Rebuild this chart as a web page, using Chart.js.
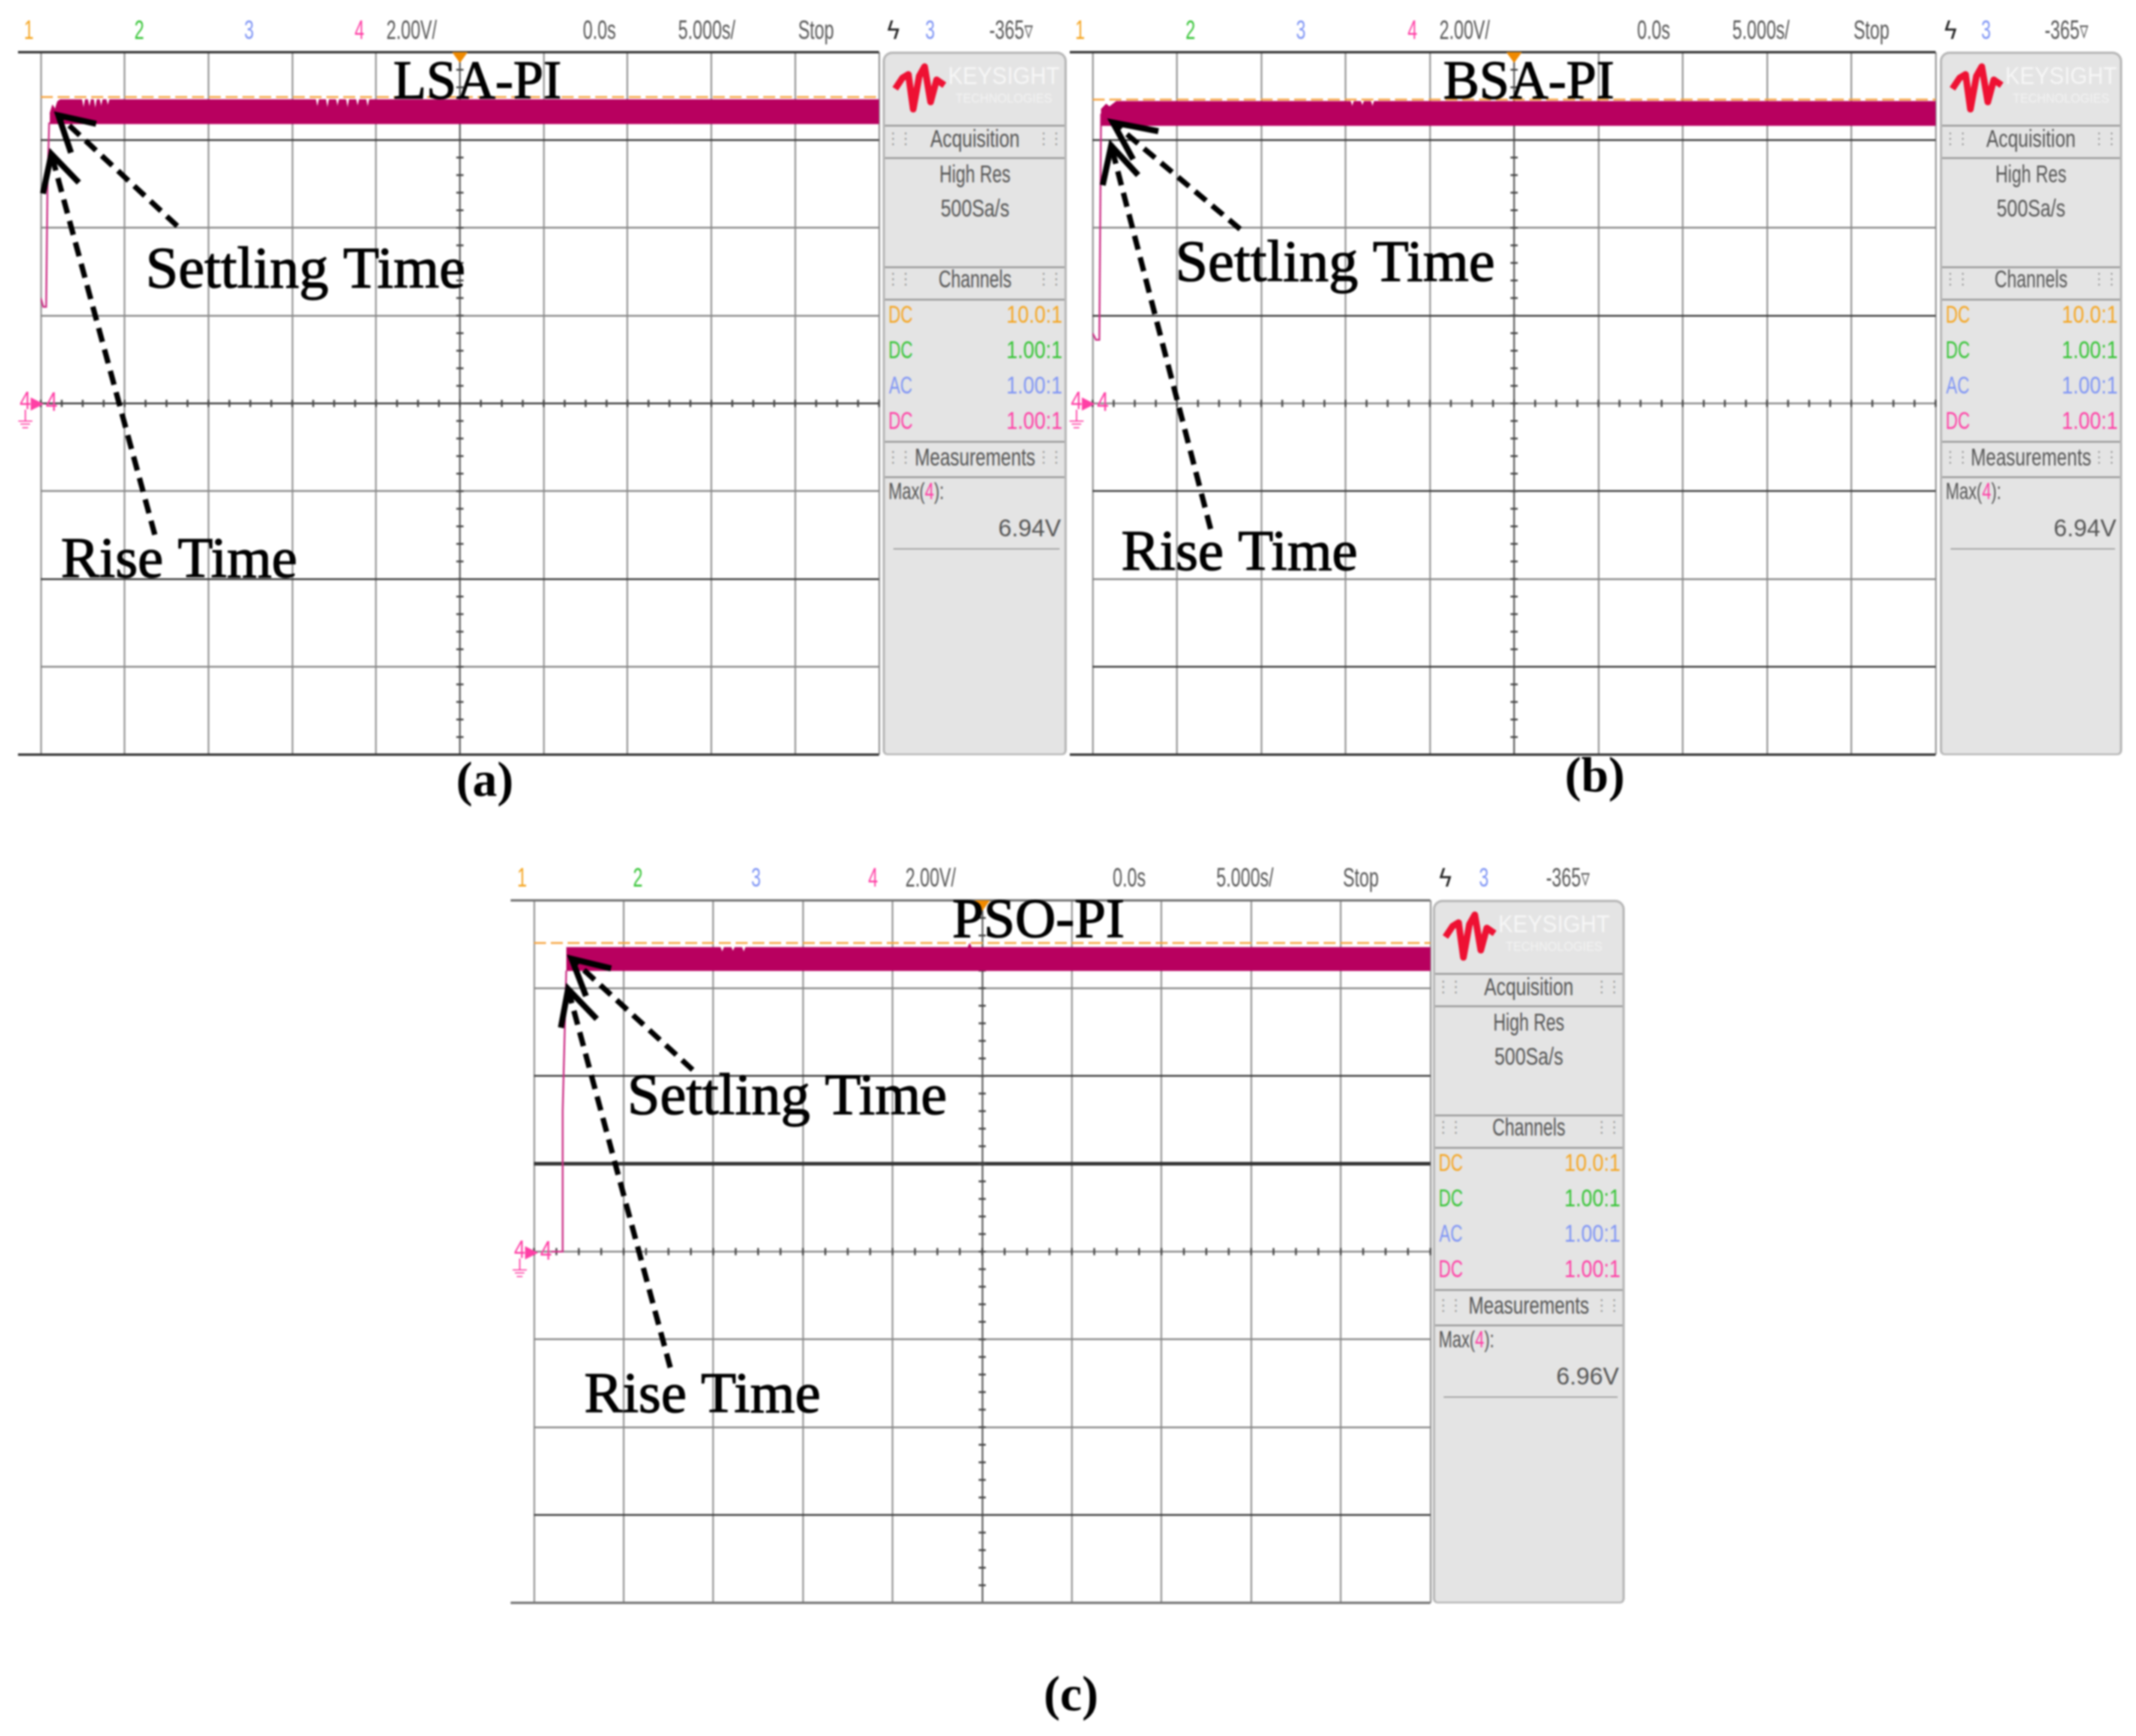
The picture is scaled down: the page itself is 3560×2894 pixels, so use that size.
<!DOCTYPE html>
<html>
<head>
<meta charset="utf-8">
<title>Scope captures</title>
<script src="https://cdn.jsdelivr.net/npm/chart.js@4"></script>
<style>
  html, body { margin: 0; background: #fff; }
  #page { position: relative; width: 3560px; height: 2894px; overflow: hidden; filter: blur(1.4px); }
  canvas { position: absolute; }
  .txt { position: absolute; white-space: nowrap; font-family: "Liberation Sans", sans-serif; line-height: 1; }
  .side { position: absolute; background: #e4e4e4; border: 4px solid #b8b8b8; border-bottom-width: 3px; border-radius: 16px 16px 8px 8px; box-sizing: border-box; }
  .rule { position: absolute; left: 0; right: 0; height: 3px; background: #9a9a9a; }
</style>
</head>
<body>
<div id="page"></div>
<script>
// === channel labels above each capture ===
const headerTexts = ['1', '2', '3', '4', '2.00V/', '0.0s', '5.000s/', 'Stop', '3', '-365▿'];
const headerColors = ['#f5a623', '#35c435', '#7f95f5', '#ff3fa5', '#555', '#555', '#555', '#555', '#7f95f5', '#555'];
const channelCoupling = ['DC', 'DC', 'AC', 'DC'];
const channelProbe = ['10.0:1', '1.00:1', '1.00:1', '1.00:1'];
const channelColors = ['#f5a623', '#35c435', '#7f95f5', '#ff3fa5'];

// === grid units: seconds and volts ===
const timeTicks = [-25, -20, -15, -10, -5, 0, 5, 10, 15, 20, 25];
const voltTicks = [-8, -6, -4, -2, 0, 2, 4, 6, 8];

// === panel a: LSA-PI ===
const aBandTime = [-24.46, -24.3, -24.15, -24.0, -23.85, -23.0, -22.55, -22.45, -22.35, -22.2, -22.1, -22.0, -21.85, -21.75, -21.65, -21.5, -21.4, -21.3, -21.1, -21, -20.9, -9, -8.6, -8.5, -8.4, -8.0, -7.9, -7.8, -7.4, -7.3, -7.2, -6.8, -6.7, -6.6, -6.2, -6.1, -6.0, -5.6, -5.5, -5.4, 25];
const aBandMax = [6.6, 6.8, 6.7, 6.88, 6.92, 6.92, 6.92, 6.72, 6.92, 6.92, 6.74, 6.92, 6.92, 6.7, 6.92, 6.92, 6.76, 6.92, 6.92, 6.78, 6.92, 6.92, 6.92, 6.74, 6.92, 6.92, 6.72, 6.92, 6.92, 6.76, 6.92, 6.92, 6.72, 6.92, 6.92, 6.76, 6.92, 6.92, 6.74, 6.92, 6.92];
const aBandMinTime = [-24.46, 25];
const aBandMin = [6.37, 6.37];
const aRiseTime = [-25, -24.85, -24.68, -24.6, -24.5];
const aRiseVolt = [2.4, 2.2, 2.2, 5, 6.4];
const aRefLevel = 6.98;
const aSettlingArrow = [[-16.86, 4.04], [-23.95, 6.56], [-21.7, 6.37], [-23.2, 5.71]];
const aRiseArrow = [[-18.2, -2.99], [-24.37, 5.68], [-24.87, 4.78], [-22.73, 5.03]];
const aDarkLines = [8, 6, 0, -4, -8];

// === panel b: BSA-PI ===
const bBandTime = [-24.5, -24.2, -24.0, -23.6, -10, -9.7, -9.6, -9.5, -9.1, -9, -8.9, -8.5, -8.4, -8.3, 25];
const bBandMax = [6.7, 6.82, 6.76, 6.88, 6.88, 6.88, 6.76, 6.88, 6.88, 6.78, 6.88, 6.88, 6.76, 6.88, 6.88];
const bBandMinTime = [-24.5, 25];
const bBandMin = [6.33, 6.33];
const bRiseTime = [-25, -24.8, -24.6, -24.5];
const bRiseVolt = [1.6, 1.45, 1.45, 6.6];
const bRefLevel = 6.92;
const bSettlingArrow = [[-16.25, 3.97], [-23.8, 6.4], [-21.1, 6.2], [-22.6, 5.56]];
const bRiseArrow = [[-18, -2.86], [-23.9, 5.87], [-24.4, 4.97], [-22.3, 5.2]];
const bDarkLines = [8, 6, 2, -2, -6, -8];

// === panel c: PSO-PI ===
const cBandTime = [-23.2, -15, -14.6, -14.5, -14.4, -14.0, -13.9, -13.8, -13.4, -13.3, -13.2, -0.8, -0.7, -0.6, 25];
const cBandMax = [6.93, 6.93, 6.93, 6.82, 6.93, 6.93, 6.84, 6.93, 6.93, 6.82, 6.93, 6.93, 7.02, 6.93, 6.93];
const cBandMinTime = [-23.2, 25];
const cBandMin = [6.4, 6.4];
const cRiseTime = [-24.05, -23.4, -23.4, -23.2];
const cRiseVolt = [0, 0, 3.2, 6.4];
const cRefLevel = 7.03;
const cSettlingArrow = [[-16.15, 4.14], [-22.9, 6.67], [-20.7, 6.45], [-22.1, 5.82]];
const cRiseArrow = [[-17.4, -2.64], [-23.1, 5.98], [-23.5, 5.1], [-21.5, 5.3]];
const cDarkLines = [4, -6, -8];
const cThickLines = [2];

const page = document.getElementById('page');

// === TEXT AND SIDE PANEL HELPERS ===
function addText(parent, text, x, y, size, color, squeeze) {
    const el = document.createElement('div');
    el.className = 'txt';
    el.textContent = text;
    el.style.left = x + 'px';
    el.style.top = y + 'px';
    el.style.fontSize = size + 'px';
    el.style.color = color;
    el.style.transform = `translate(-50%, -50%) scaleX(${squeeze || 0.72})`;
    parent.appendChild(el);
    return el;
}

function addSidePanel(left, top, width, height, maxText) {
    const side = document.createElement('div');
    side.className = 'side';
    side.style.cssText = `left:${left}px;top:${top}px;width:${width}px;height:${height}px`;
    page.appendChild(side);
    const mid = width / 2 - 4;

    [118, 172, 354, 408, 645, 704].forEach(y => {
        const rule = document.createElement('div');
        rule.className = 'rule';
        rule.style.top = y + 'px';
        side.appendChild(rule);
    });

    // logo
    side.insertAdjacentHTML('beforeend',
        '<svg style="position:absolute;left:0;top:0" width="120" height="110" viewBox="0 0 120 110">' +
        '<polyline points="17,58 29,40 39,34 47,92 57,37 66,21 76,80 86,43 99,52" fill="none" stroke="#ee1133" stroke-width="11" stroke-linejoin="round"/></svg>');
    addText(side, 'KEYSIGHT', 198, 36, 40, '#f6f6f6', 0.92);
    addText(side, 'TECHNOLOGIES', 198, 74, 22, '#f2f2f2', 0.92);

    addText(side, 'Acquisition', mid, 141, 40, '#555', 0.77);
    addText(side, 'High Res', mid, 200, 40, '#555', 0.72);
    addText(side, '500Sa/s', mid, 257, 40, '#555', 0.78);
    addText(side, 'Channels', mid, 375, 40, '#555', 0.72);
    addText(side, 'Measurements', mid, 672, 40, '#555', 0.76);
    [141, 375, 672].forEach(y => {
        addText(side, '⋮⋮', 24, y, 26, '#888', 0.8);
        addText(side, '⋮⋮', width - 32, y, 26, '#888', 0.8);
    });

    channelCoupling.forEach((c, i) => {
        const y = 434 + i * 59;
        addText(side, c, 26, y, 40, channelColors[i], 0.7);
        addText(side, channelProbe[i], width - 58, y, 40, channelColors[i], 0.84);
    });

    const maxLabel = addText(side, '', 52, 729, 38, '#555', 0.72);
    maxLabel.innerHTML = 'Max(<span style="color:#ff3fa5">4</span>):';
    addText(side, maxText, width - 66, 790, 40, '#555', 1.0);
    const under = document.createElement('div');
    under.className = 'rule';
    under.style.cssText = 'top:824px;left:14px;right:8px;height:2px';
    side.appendChild(under);
}

function addHeader(xs, y) {
    headerTexts.forEach((t, i) => {
        addText(page, t, xs[i], y, 44, headerColors[i], 0.66);
    });
    addText(page, 'ϟ', xs[10], y, 44, '#222', 0.9);
}

function addGroundMark(x, y) {
    addText(page, '4', x, y - 4, 42, '#ff3fa5', 0.8);
    addText(page, '▸', x + 20, y - 2, 44, '#ff3fa5', 1);
    addText(page, '4', x + 44, y - 2, 44, '#ff3fa5', 0.8);
    addText(page, '⏚', x, y + 28, 40, '#ff3fa5', 1);
}

// === PLUGIN FOR SCOPE DECORATIONS AND ARROWS ===
function pt(chart, p) {
    return [chart.scales.x.getPixelForValue(p[0]), chart.scales.y.getPixelForValue(p[1])];
}

const scopePlugin = {
    id: 'scope',
    beforeDatasetsDraw(chart) {
        const ctx = chart.ctx, a = chart.chartArea, o = chart.options.plugins.scope;
        const cx = chart.scales.x.getPixelForValue(0), cy = chart.scales.y.getPixelForValue(0);
        ctx.save();
        ctx.strokeStyle = '#444';
        ctx.lineWidth = 3;
        // minor ticks along the centre lines
        for (let t = -25; t <= 25; t += 1.25) {
            const x = chart.scales.x.getPixelForValue(t);
            ctx.beginPath(); ctx.moveTo(x, cy - 6); ctx.lineTo(x, cy + 6); ctx.stroke();
        }
        for (let v = -8; v <= 8; v += 0.4) {
            const y = chart.scales.y.getPixelForValue(v);
            ctx.beginPath(); ctx.moveTo(cx - 6, y); ctx.lineTo(cx + 6, y); ctx.stroke();
        }
        // top and bottom rules reach past the grid on the left
        ctx.strokeStyle = o.ruleColor;
        ctx.lineWidth = 4;
        ctx.beginPath();
        ctx.moveTo(o.ruleLeft, a.top); ctx.lineTo(a.right, a.top);
        ctx.moveTo(o.ruleLeft, a.bottom); ctx.lineTo(a.right, a.bottom);
        ctx.stroke();
        // trigger mark
        ctx.fillStyle = '#f08a00';
        ctx.beginPath();
        ctx.moveTo(cx - 13, a.top); ctx.lineTo(cx + 13, a.top); ctx.lineTo(cx, a.top + 18); ctx.closePath();
        ctx.fill();
        ctx.restore();
    },
    afterDatasetsDraw(chart) {
        const ctx = chart.ctx, o = chart.options.plugins.scope;
        ctx.save();
        ctx.strokeStyle = '#000';
        ctx.lineCap = 'butt';
        o.arrows.forEach(arrow => {
            const [tail, tip, b1, b2] = arrow.map(p => pt(chart, p));
            ctx.lineWidth = 9;
            ctx.setLineDash([24, 13]);
            ctx.beginPath(); ctx.moveTo(tail[0], tail[1]); ctx.lineTo(tip[0], tip[1]); ctx.stroke();
            ctx.setLineDash([]);
            ctx.lineWidth = 10;
            ctx.beginPath();
            ctx.moveTo(b1[0], b1[1]); ctx.lineTo(tip[0], tip[1]); ctx.lineTo(b2[0], b2[1]);
            ctx.stroke();
        });
        ctx.fillStyle = '#000';
        ctx.lineWidth = 1.6;
        ctx.textBaseline = 'alphabetic';
        o.labels.forEach(l => {
            const [x, y] = pt(chart, [l.t, l.v]);
            ctx.font = `${l.size}px "Liberation Serif"`;
            ctx.fillText(l.text, x, y);
            ctx.strokeText(l.text, x, y);
        });
        ctx.restore();
    }
};

// === BUILD ONE SCOPE CAPTURE ===
function buildScope(s) {
    const canvas = document.createElement('canvas');
    canvas.style.left = s.canvasLeft + 'px';
    canvas.style.top = s.canvasTop + 'px';
    canvas.width = s.canvasWidth;
    canvas.height = s.canvasHeight;
    canvas.style.width = s.canvasWidth + 'px';
    canvas.style.height = s.canvasHeight + 'px';
    page.appendChild(canvas);

    new Chart(canvas.getContext('2d'), {
        type: 'line',
        data: {
            datasets: [
                {
                    data: s.bandTime.map((t, i) => ({ x: t, y: s.bandMax[i] })),
                    borderColor: '#b8005f',
                    backgroundColor: '#b8005f',
                    borderWidth: 1,
                    pointRadius: 0,
                    tension: 0,
                    fill: '+1'
                },
                {
                    data: s.bandMinTime.map((t, i) => ({ x: t, y: s.bandMin[i] })),
                    borderColor: '#b8005f',
                    borderWidth: 1,
                    pointRadius: 0,
                    tension: 0,
                    fill: false
                },
                {
                    data: s.riseTime.map((t, i) => ({ x: t, y: s.riseVolt[i] })),
                    borderColor: '#cc2f86',
                    borderWidth: 3,
                    pointRadius: 0,
                    tension: 0,
                    fill: false
                },
                {
                    data: [{ x: -25, y: s.refLevel }, { x: 25, y: s.refLevel }],
                    borderColor: '#f7a13a',
                    borderWidth: 3,
                    borderDash: [20, 8],
                    pointRadius: 0,
                    fill: false
                }
            ]
        },
        options: {
            responsive: false,
            animation: false,
            layout: { padding: s.padding },
            plugins: {
                legend: { display: false },
                tooltip: { enabled: false },
                scope: { arrows: s.arrows, labels: s.labels, ruleLeft: s.ruleLeft, ruleColor: s.ruleColor }
            },
            scales: {
                x: {
                    type: 'linear',
                    min: timeTicks[0],
                    max: timeTicks[timeTicks.length - 1],
                    border: { display: false },
                    afterBuildTicks: axis => { axis.ticks = timeTicks.map(v => ({ value: v })); },
                    ticks: { display: false, autoSkip: false },
                    grid: {
                        drawTicks: false,
                        color: ctx => ctx.tick.value === 0 ? '#666' : '#9c9c9c',
                        lineWidth: 3
                    }
                },
                y: {
                    type: 'linear',
                    min: voltTicks[0],
                    max: voltTicks[voltTicks.length - 1],
                    border: { display: false },
                    afterBuildTicks: axis => { axis.ticks = voltTicks.map(v => ({ value: v })); },
                    ticks: { display: false, autoSkip: false },
                    grid: {
                        drawTicks: false,
                        color: ctx => {
                            if (s.thick.includes(ctx.tick.value)) return '#333';
                            return s.dark.includes(ctx.tick.value) ? '#3c3c3c' : '#8a8a8a';
                        },
                        lineWidth: ctx => s.thick.includes(ctx.tick.value) ? 6 : 3
                    }
                }
            }
        },
        plugins: [scopePlugin]
    });
}

function addCaption(text, x, y) {
    const el = addText(page, text, x, y, 82, '#000', 1);
    el.style.fontFamily = '"Liberation Serif"';
    el.style.fontWeight = 'bold';
}

// === PANEL a ===
buildScope({
    canvasLeft: 0, canvasTop: 60, canvasWidth: 1470, canvasHeight: 1220,
    padding: { left: 68, right: 5, top: 27, bottom: 22 },
    ruleLeft: 30, ruleColor: '#333',
    bandTime: aBandTime, bandMax: aBandMax, bandMinTime: aBandMinTime, bandMin: aBandMin,
    riseTime: aRiseTime, riseVolt: aRiseVolt, refLevel: aRefLevel,
    arrows: [aSettlingArrow, aRiseArrow], dark: aDarkLines, thick: [],
    labels: [
        { text: 'LSA-PI', t: -3.97, v: 6.95, size: 90 },
        { text: 'Settling Time', t: -18.75, v: 2.65, size: 98 },
        { text: 'Rise Time', t: -23.8, v: -3.95, size: 96 }
    ]
});
addSidePanel(1471, 86, 307, 1173, '6.94V');
addHeader([48, 232, 415, 599, 686, 999, 1178, 1360, 1550, 1685, 1489], 50);
addGroundMark(42, 672);
addCaption('(a)', 808, 1300);

// === PANEL b ===
buildScope({
    canvasLeft: 1770, canvasTop: 60, canvasWidth: 1460, canvasHeight: 1220,
    padding: { left: 51, right: 4, top: 27, bottom: 22 },
    ruleLeft: 13, ruleColor: '#333',
    bandTime: bBandTime, bandMax: bBandMax, bandMinTime: bBandMinTime, bandMin: bBandMin,
    riseTime: bRiseTime, riseVolt: bRiseVolt, refLevel: bRefLevel,
    arrows: [bSettlingArrow, bRiseArrow], dark: bDarkLines, thick: [],
    labels: [
        { text: 'BSA-PI', t: -4.2, v: 6.95, size: 90 },
        { text: 'Settling Time', t: -20.1, v: 2.8, size: 98 },
        { text: 'Rise Time', t: -23.3, v: -3.79, size: 96 }
    ]
});
addSidePanel(3233, 86, 304, 1173, '6.94V');
addHeader([1800, 1984, 2168, 2354, 2441, 2756, 2935, 3119, 3310, 3444, 3251], 50);
addGroundMark(1794, 672);
addCaption('(b)', 2658, 1292);

// === PANEL c ===
buildScope({
    canvasLeft: 840, canvasTop: 1480, canvasWidth: 1548, canvasHeight: 1215,
    padding: { left: 50, right: 4, top: 21, bottom: 23 },
    ruleLeft: 11, ruleColor: '#777',
    bandTime: cBandTime, bandMax: cBandMax, bandMinTime: cBandMinTime, bandMin: cBandMin,
    riseTime: cRiseTime, riseVolt: cRiseVolt, refLevel: cRefLevel,
    arrows: [cSettlingArrow, cRiseArrow], dark: cDarkLines, thick: cThickLines,
    labels: [
        { text: 'PSO-PI', t: -1.67, v: 7.17, size: 94 },
        { text: 'Settling Time', t: -19.8, v: 3.14, size: 98 },
        { text: 'Rise Time', t: -22.2, v: -3.66, size: 96 }
    ]
});
addSidePanel(2388, 1500, 320, 1173, '6.96V');
addHeader([870, 1063, 1260, 1455, 1551, 1882, 2075, 2268, 2473, 2613, 2409], 1463);
addGroundMark(866, 2087);
addCaption('(c)', 1785, 2824);
</script>
</body>
</html>
